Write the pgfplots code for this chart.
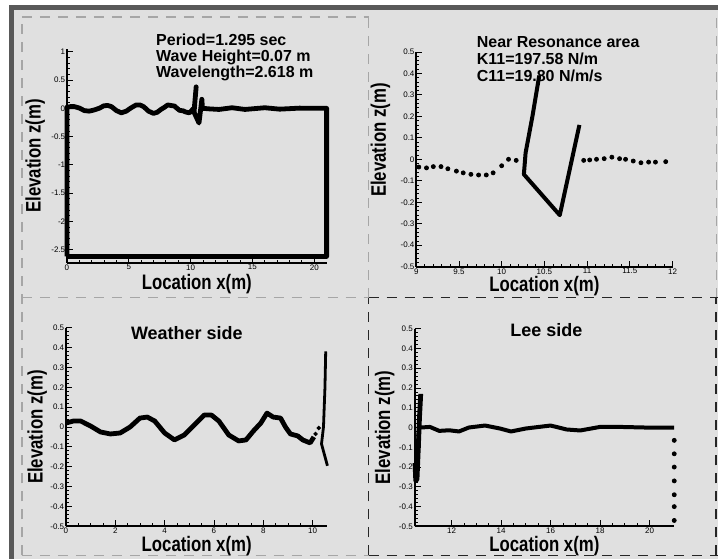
\documentclass[border=0pt]{standalone}
\usepackage{fontspec}
\setmainfont{Liberation Sans}
\newfontfamily\narrowfont[FakeStretch=0.8]{Liberation Sans}
\usepackage{pgfplots}
\pgfplotsset{compat=1.18}

\pgfplotsset{panel/.style={
  scale only axis, anchor=south west, clip=false,
  axis x line*=bottom, axis y line*=left,
  axis line style={line width=1pt, -},
  tick align=inside,
  major tick length=3pt, minor tick length=1.5pt,
  every tick/.style={black, line width=0.4pt},
  tick label style={font=\fontsize{4}{4.5}\selectfont, inner sep=0.7pt},
  /pgf/number format/assume math mode=true,
  xlabel={Location x(m)}, ylabel={Elevation z(m)},
  label style={font=\narrowfont\fontsize{10.5}{12}\selectfont\bfseries, inner sep=0pt},
  yticklabel style={xshift=0pt},
  xticklabel style={yshift=0pt},
}}

\begin{document}
\begin{tikzpicture}
% page, halftone background, scan border
\fill[white] (0,0) rectangle (359.5pt,280pt);
\fill[black!12] (7pt,0) rectangle (359.5pt,275pt);
\fill[black!65] (4.5pt,0) rectangle (7pt,277.5pt);
\fill[black!65] (4.5pt,275pt) rectangle (359.5pt,277.5pt);
% frame dashes
\begin{scope}[dash pattern=on 5pt off 4pt]
\draw[black!35, line width=0.6pt] (11pt,271.5pt) -- (184.5pt,271.5pt);
\draw[black!35, line width=0.6pt] (11pt,2pt) -- (11pt,271.5pt);
\draw[black!35, line width=0.6pt] (11pt,2pt) -- (184.5pt,2pt);
\draw[black!35, line width=0.6pt] (11pt,131pt) -- (184.5pt,131pt);
\draw[black!35, line width=0.6pt] (184.5pt,131pt) -- (184.5pt,271.5pt);
\draw[black!35, line width=0.6pt] (358.5pt,131pt) -- (358.5pt,271.5pt);
\draw[black!85, line width=0.8pt] (184.5pt,131pt) -- (359.5pt,131pt);
\draw[black!85, line width=0.8pt] (184.5pt,2pt) -- (184.5pt,131pt);
\draw[black!85, line width=0.8pt] (358.5pt,2pt) -- (358.5pt,131pt);
\draw[black!85, line width=0.8pt] (184.5pt,2pt) -- (359.5pt,2pt);
\end{scope}

% ---- panel 1: whole tank
\begin{axis}[panel, at={(33.5pt,148.5pt)}, width=130pt, height=107pt,
  xmin=0, xmax=21, ymin=-2.73, ymax=1.05,
  xtick={0,5,10,15,20}, ytick={-2.5,-2,-1.5,-1,-0.5,0,0.5,1},
  minor x tick num=4, minor y tick num=4,
  xlabel style={at={(axis description cs:0.5,-0.1)}, anchor=center},
  ylabel style={at={(axis description cs:-0.122,0.5)}, anchor=center}]
\addplot[black, line width=2.4pt, line join=round] coordinates {
  (0,-2.62) (0,0.02) (0.3,0.03) (0.6,0.03) (1.0,0.005) (1.4,-0.04) (1.8,-0.05)
  (2.2,-0.03) (2.6,0.0) (3.0,0.045) (3.3,0.05) (3.6,0.03) (4.0,-0.04) (4.4,-0.08)
  (4.8,-0.05) (5.2,0.01) (5.6,0.06) (5.9,0.06) (6.2,0.03) (6.6,-0.05) (7.0,-0.09)
  (7.3,-0.07) (7.6,-0.02) (7.9,0.02) (8.15,0.06) (8.4,0.05) (8.7,0.04) (8.9,0.0)
  (9.1,-0.035) (9.4,-0.045) (9.6,-0.065) (9.9,-0.08) (10.05,-0.05) (10.2,-0.01)
  (10.3,0.0) (10.45,0.38) (10.28,-0.07) (10.68,-0.26) (10.91,0.16) (10.96,0.0)
  (11.5,-0.01) (12.3,-0.02) (13.35,0.01) (14.4,-0.02) (16.0,0.01) (17.2,-0.015)
  (18.8,0.003) (21,0) (21,-2.62) (0,-2.62)};
\end{axis}
\node[anchor=north west, inner sep=0, align=left, font=\fontsize{8}{8}\selectfont\bfseries]
  at (78pt,263pt) {Period=1.295 sec\\Wave Height=0.07 m\\Wavelength=2.618 m};

% ---- panel 2: near resonance
\begin{axis}[panel, at={(208.35pt,146.5pt)}, width=128.3pt, height=107.5pt,
  xmin=9, xmax=12, ymin=-0.5, ymax=0.5,
  xtick={9,9.5,10,10.5,11,11.5,12},
  ytick={-0.5,-0.4,-0.3,-0.2,-0.1,0,0.1,0.2,0.3,0.4,0.5},
  minor x tick num=4, minor y tick num=4,
  xlabel style={at={(axis description cs:0.5,-0.09)}, anchor=center},
  ylabel style={at={(axis description cs:-0.14,0.59)}, anchor=center}]
\addplot[only marks, mark=*, mark size=1pt, black] coordinates {
  (9.03,-0.036) (9.12,-0.04) (9.2,-0.034) (9.29,-0.034) (9.37,-0.044) (9.47,-0.055)
  (9.55,-0.063) (9.64,-0.07) (9.73,-0.073) (9.82,-0.073) (9.9,-0.063) (10.0,-0.03)
  (10.08,0.0) (10.17,-0.005)};
\addplot[only marks, mark=*, mark size=1pt, black] coordinates {
  (10.96,-0.005) (11.03,-0.003) (11.11,0.0) (11.2,0.003) (11.29,0.01) (11.38,0.003)
  (11.45,0.0) (11.54,-0.008) (11.63,-0.016) (11.72,-0.013) (11.8,-0.013) (11.92,-0.011)};
\addplot[black, line width=2pt, line join=round] coordinates {
  (10.44,0.39) (10.36,0.2) (10.28,0.03) (10.26,-0.07) (10.68,-0.26) (10.91,0.16)};
\end{axis}
\node[anchor=north west, inner sep=0, align=left, font=\fontsize{8}{8.5}\selectfont\bfseries]
  at (238.5pt,262pt) {Near Resonance area\\K11=197.58 N/m\\C11=19.80 N/m/s};

% ---- panel 3: weather side
\begin{axis}[panel, at={(33pt,16.5pt)}, width=130.9pt, height=99.5pt,
  xmin=0, xmax=10.6, ymin=-0.5, ymax=0.5,
  xtick={0,2,4,6,8,10},
  ytick={-0.5,-0.4,-0.3,-0.2,-0.1,0,0.1,0.2,0.3,0.4,0.5},
  minor x tick num=3, minor y tick num=4,
  xlabel style={at={(axis description cs:0.5,-0.1)}, anchor=center},
  ylabel style={at={(axis description cs:-0.11,0.5)}, anchor=center}]
\addplot[black, line width=2.4pt, line join=round] coordinates {
  (0,0.02) (0.3,0.03) (0.6,0.03) (1.0,0.005) (1.4,-0.025) (1.8,-0.035) (2.2,-0.03)
  (2.6,0.0) (3.0,0.045) (3.3,0.05) (3.6,0.03) (4.0,-0.03) (4.4,-0.065) (4.8,-0.04)
  (5.2,0.01) (5.6,0.06) (5.9,0.06) (6.2,0.03) (6.6,-0.04) (7.0,-0.07) (7.3,-0.065)
  (7.6,-0.02) (7.9,0.02) (8.15,0.07) (8.4,0.05) (8.7,0.045) (8.9,0.0) (9.1,-0.035)
  (9.4,-0.045) (9.6,-0.065) (9.9,-0.08) (10.05,-0.05)};
\addplot[only marks, mark=*, mark size=0.9pt, black] coordinates {
  (10.12,-0.035) (10.25,-0.005)};
\addplot[black, line width=1.4pt, line join=round] coordinates {
  (10.53,0.38) (10.5,0.2) (10.44,0.0) (10.36,-0.085) (10.6,-0.195)};
\end{axis}
\node[font=\fontsize{9}{9}\selectfont\bfseries] at (93.5pt,113.5pt) {Weather side};

% ---- panel 4: lee side
\begin{axis}[panel, at={(207.5pt,16.5pt)}, width=130pt, height=99pt,
  xmin=10.5, xmax=21, ymin=-0.5, ymax=0.5,
  xtick={12,14,16,18,20},
  ytick={-0.5,-0.4,-0.3,-0.2,-0.1,0,0.1,0.2,0.3,0.4,0.5},
  minor x tick num=3, minor y tick num=4,
  xlabel style={at={(axis description cs:0.5,-0.1)}, anchor=center},
  ylabel style={at={(axis description cs:-0.115,0.5)}, anchor=center}]
\addplot[black, line width=2.4pt, line join=round] coordinates {
  (10.52,-0.18) (10.55,-0.27) (10.6,-0.26) (10.66,-0.08) (10.7,0.05) (10.75,0.17)};
\addplot[black, line width=1.6pt] coordinates {
  (10.56,-0.22) (10.62,-0.1) (10.68,0.02) (10.72,0.1)};
\addplot[black, line width=2pt, line join=round] coordinates {
  (10.76,0.0) (11.12,0.003) (11.5,-0.017) (11.9,-0.014) (12.3,-0.02) (12.7,0.0)
  (13.35,0.01) (13.95,-0.005) (14.4,-0.02) (15.0,-0.005) (16.0,0.01) (16.65,-0.01)
  (17.2,-0.015) (18.0,0.003) (18.8,0.003) (19.8,0.0) (21,0.0)};
\addplot[only marks, mark=*, mark size=1pt, black] coordinates {
  (21,-0.065) (21,-0.133) (21,-0.2) (21,-0.27) (21,-0.34) (21,-0.4) (21,-0.47)};
\end{axis}
\node[font=\fontsize{9}{9}\selectfont\bfseries] at (273.5pt,115pt) {Lee side};
\end{tikzpicture}
\end{document}
